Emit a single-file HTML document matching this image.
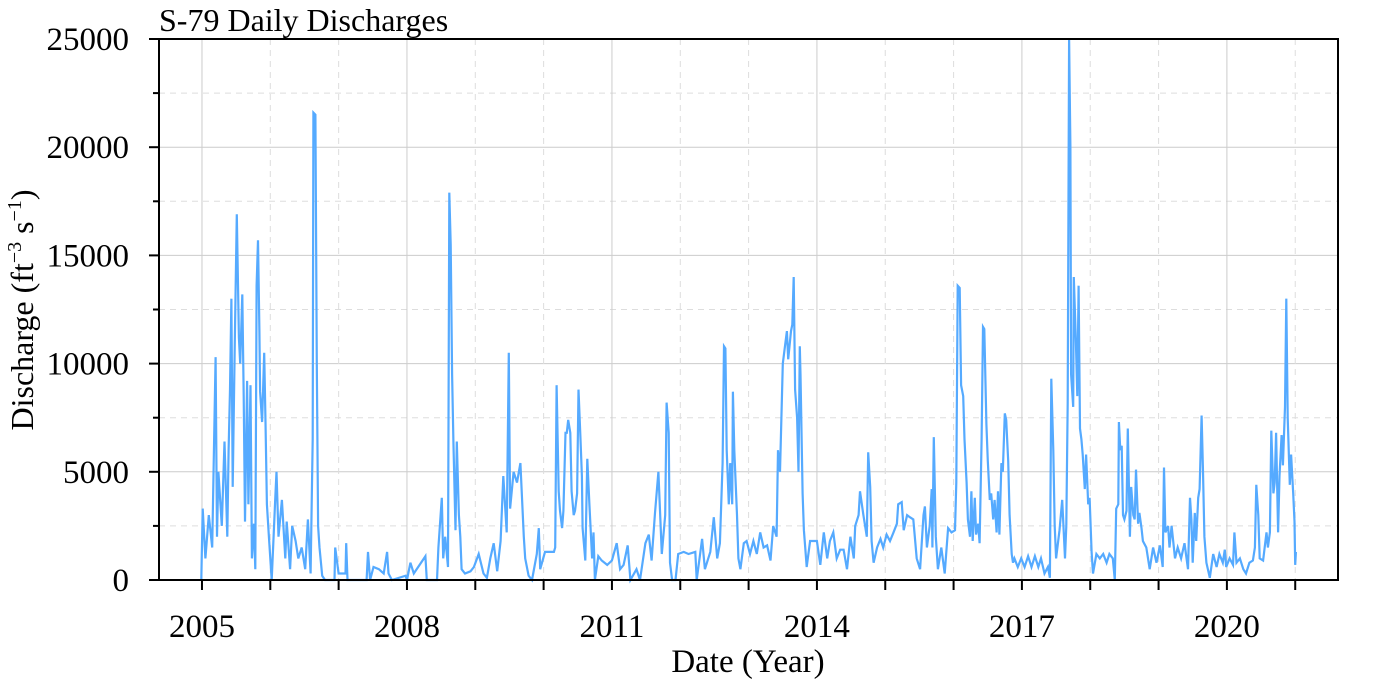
<!DOCTYPE html>
<html><head><meta charset="utf-8"><style>
html,body{margin:0;padding:0;background:#fff;}
svg{display:block;font-family:"Liberation Serif",serif;}
</style></head><body>
<svg id="chart" width="1400" height="700" viewBox="0 0 1400 700" xmlns="http://www.w3.org/2000/svg">
<g id="grid"></g>
<g id="series"></g>
<rect x="159" y="39" width="1179" height="541" fill="none" stroke="#000" stroke-width="2"/>
<g id="axes"></g>
<text x="159" y="31" font-size="32">S-79 Daily Discharges</text>
<text x="748" y="672" font-size="33" text-anchor="middle">Date (Year)</text>
<text transform="translate(33,310) rotate(-90)" font-size="32" text-anchor="middle">Discharge (ft<tspan font-size="20" dy="-12">−3</tspan><tspan dy="12"> s</tspan><tspan font-size="20" dy="-12">−1</tspan><tspan dy="12">)</tspan></text>
</svg>
<script>
const xTickYears=[2005,2006,2007,2008,2009,2010,2011,2012,2013,2014,2015,2016,2017,2018,2019,2020,2021];
const xLabelYears=[2005,2008,2011,2014,2017,2020];
const yTicks=[0,2500,5000,7500,10000,12500,15000,17500,20000,22500,25000];
const yLabels=[0,5000,10000,15000,20000,25000];
const dates=[2004.99,2005.01,2005.05,2005.10,2005.15,2005.20,2005.22,2005.24,2005.29,2005.33,2005.37,2005.39,2005.41,2005.43,2005.45,2005.48,2005.51,2005.54,2005.56,2005.59,2005.61,2005.63,2005.66,2005.68,2005.71,2005.73,2005.76,2005.78,2005.80,2005.82,2005.84,2005.85,2005.88,2005.91,2005.93,2005.95,2005.98,2006.00,2006.02,2006.07,2006.09,2006.12,2006.17,2006.22,2006.24,2006.29,2006.32,2006.37,2006.41,2006.46,2006.51,2006.55,2006.59,2006.62,2006.63,2006.66,2006.68,2006.70,2006.72,2006.76,2006.80,2006.94,2006.95,2007.00,2007.10,2007.11,2007.13,2007.41,2007.43,2007.46,2007.51,2007.59,2007.66,2007.71,2007.73,2007.78,2007.98,2008.00,2008.05,2008.10,2008.27,2008.29,2008.44,2008.46,2008.51,2008.53,2008.56,2008.60,2008.62,2008.64,2008.66,2008.68,2008.71,2008.73,2008.76,2008.78,2008.80,2008.85,2008.93,2008.98,2009.05,2009.12,2009.17,2009.22,2009.27,2009.32,2009.37,2009.41,2009.46,2009.49,2009.51,2009.56,2009.61,2009.66,2009.71,2009.73,2009.78,2009.83,2009.90,2009.93,2009.95,2010.02,
2010.10,2010.15,2010.17,2010.19,2010.22,2010.24,2010.27,2010.29,2010.32,2010.34,2010.36,2010.39,2010.41,2010.44,2010.46,2010.49,2010.51,2010.54,2010.56,2010.57,2010.61,2010.64,2010.67,2010.71,2010.73,2010.75,2010.80,2010.85,2010.93,2011.00,2011.07,2011.12,2011.17,2011.23,2011.27,2011.36,2011.41,2011.49,2011.54,2011.58,2011.63,2011.68,2011.73,2011.78,2011.80,2011.83,2011.85,2011.88,2011.93,2011.97,2012.05,2012.12,2012.22,2012.24,2012.32,2012.36,2012.44,2012.49,2012.54,2012.58,2012.62,2012.64,2012.66,2012.68,2012.71,2012.73,2012.76,2012.77,2012.79,2012.83,2012.85,2012.88,2012.93,2012.97,2013.02,2013.07,2013.12,2013.17,2013.22,2013.27,2013.32,2013.36,2013.41,2013.43,2013.46,2013.50,2013.54,2013.56,2013.58,2013.62,2013.64,2013.66,2013.68,2013.71,2013.73,2013.75,2013.76,2013.79,2013.81,2013.85,2013.90,2013.95,2014.00,2014.05,2014.10,2014.15,2014.19,2014.24,2014.29,2014.34,2014.39,2014.44,2014.49,2014.54,2014.56,2014.61,2014.63,2014.68,2014.73,2014.75,2014.78,2014.80,2014.83,2014.88,2014.93,2014.97,2015.02,2015.07,2015.12,2015.17,2015.19,2015.24,2015.27,2015.32,2015.36,2015.41,2015.46,2015.51,2015.56,2015.58,2015.61,
2015.65,2015.68,2015.69,2015.71,2015.74,2015.77,2015.82,2015.87,2015.92,2015.97,2016.02,2016.04,2016.06,2016.09,2016.11,2016.14,2016.16,2016.19,2016.21,2016.24,2016.26,2016.28,2016.31,2016.33,2016.36,2016.38,2016.41,2016.43,2016.45,2016.48,2016.50,2016.53,2016.55,2016.58,2016.60,2016.63,2016.65,2016.67,2016.70,2016.72,2016.75,2016.77,2016.80,2016.82,2016.85,2016.87,2016.89,2016.94,2016.99,2017.04,2017.09,2017.14,2017.19,2017.24,2017.28,2017.33,2017.38,2017.41,2017.43,2017.46,2017.48,2017.50,2017.55,2017.59,2017.63,2017.65,2017.67,2017.69,2017.71,2017.72,2017.75,2017.76,2017.79,2017.81,2017.83,2017.85,2017.87,2017.89,2017.92,2017.94,2017.97,2017.99,2018.02,2018.04,2018.09,2018.14,2018.19,2018.24,2018.28,2018.33,2018.36,2018.38,2018.41,2018.42,2018.44,2018.46,2018.48,2018.50,2018.53,2018.55,2018.58,2018.60,2018.63,2018.65,2018.67,2018.70,2018.72,2018.75,2018.77,2018.82,2018.87,2018.92,2018.97,2019.02,2019.06,2019.08,2019.10,2019.14,2019.16,2019.19,2019.24,2019.28,2019.33,2019.38,2019.43,2019.46,2019.48,2019.50,2019.53,2019.55,2019.58,2019.60,2019.63,2019.65,2019.67,2019.70,2019.75,2019.80,2019.85,2019.89,2019.94,2019.97,2019.99,2020.04,2020.09,2020.11,2020.14,2020.19,2020.24,2020.28,2020.33,2020.38,2020.41,2020.43,2020.46,2020.48,2020.53,2020.58,2020.60,2020.63,2020.65,2020.68,2020.70,2020.72,2020.75,2020.77,2020.80,2020.82,2020.85,2020.87,2020.89,2020.92,2020.94,2020.97,2020.99,2021.00,2021.01];
const values=[0,3300,1000,3000,1500,10300,2000,5000,2500,6400,2000,6000,8800,13000,4300,11000,16900,11200,10000,13200,8500,2700,9200,3500,9000,1000,2600,500,13600,15700,11500,8700,7300,10500,7300,3500,2000,1000,0,3600,5000,2000,3700,1000,2700,500,2500,1800,1000,1500,500,2800,300,6500,21600,21500,10000,2500,1500,200,0,0,1500,300,300,1700,0,0,1300,0,600,500,300,1300,300,0,200,0,800,300,1100,0,0,1500,3800,1000,2000,600,17900,15500,9500,6400,2300,6400,3000,2000,500,300,400,600,1200,300,100,1000,1700,400,1800,4800,2200,10500,3300,5000,4500,5400,2000,1000,200,0,1200,2400,500,1300,
1300,1300,1500,9000,4100,3200,2400,3200,6800,6800,7400,6800,4100,3000,3200,4000,8800,6500,4800,2400,900,5600,3500,1000,2200,0,1100,900,700,900,1700,500,700,1600,0,500,0,1700,2100,900,3100,5000,1200,3000,8200,6800,800,0,0,1200,1300,1200,1300,0,1900,500,1300,2900,1000,1700,5400,10800,10700,6000,3500,5400,3500,8700,6000,3000,1000,500,1700,1800,1200,1800,1200,2200,1500,1600,900,2500,2000,6000,5000,10000,11000,11500,10200,11500,11800,14000,8800,7500,5000,10800,9500,4000,2300,600,1800,1800,1800,700,2200,1000,1800,2200,1000,1400,1400,500,2000,1000,2500,3000,4100,3000,2000,5900,4300,1800,800,1500,1900,1500,2100,1800,2200,2600,3500,3600,2300,3000,2900,2800,1000,500,3000,3400,1500,
2500,4200,1500,6600,2000,500,1500,300,2400,2200,2300,4500,13600,13500,9000,8500,6500,4500,2800,2000,4100,1800,3800,2100,2600,1700,6500,11700,11600,7200,5500,3700,4000,2800,3700,2200,4100,2100,5400,5000,7700,7400,5500,3000,1200,800,1000,600,1000,600,1100,600,1100,600,1000,300,600,100,9300,6000,2500,1000,2300,3700,1000,2500,8200,25000,20000,9500,8000,14000,11000,8500,13600,7000,6500,5800,4200,5800,3500,3800,1300,300,1200,1000,1200,800,1200,1000,0,3300,3500,7300,6000,6200,3000,2800,3200,7000,2000,4300,3000,2800,5100,2600,3100,2400,1800,1500,500,1500,800,1600,600,5200,2200,2500,1500,2500,1000,1500,1000,1700,500,3800,2800,800,3100,1800,3800,4200,7600,5000,2000,800,100,1200,600,1200,800,1400,600,1000,700,2200,800,1000,500,300,800,900,1500,4400,3000,1000,900,2200,1500,2200,6900,4000,4500,6800,2200,4800,6700,5300,8000,13000,7500,4400,5800,4000,2700,700,1300];

const NS='http://www.w3.org/2000/svg';
const X0=159,X1=1338,Y0=580,Y1=39;
const xMin=2004.371,xMax=2021.626;
function xs(t){return X0+(t-xMin)/(xMax-xMin)*(X1-X0);}
function ys(v){return Y0-(v/25000)*(Y0-Y1);}
function mk(tag,attrs,parent){const e=document.createElementNS(NS,tag);for(const k in attrs)e.setAttribute(k,attrs[k]);parent.appendChild(e);return e;}
const grid=document.getElementById('grid'),axes=document.getElementById('axes'),series=document.getElementById('series');

yTicks.forEach(v=>{
  if(v===0||v===25000)return;
  const major=v%5000===0;
  const l=mk('line',{x1:X0,x2:X1,y1:ys(v),y2:ys(v),stroke:major?'#cccccc':'#dddddd','stroke-width':1,'stroke-dasharray':major?'none':'6,5'},grid);
  
  
});
xTickYears.forEach(yr=>{
  const major=xLabelYears.includes(yr);
  const l=mk('line',{x1:xs(yr),x2:xs(yr),y1:Y1,y2:Y0,stroke:major?'#cccccc':'#dddddd','stroke-width':1,'stroke-dasharray':major?'none':'6,5'},grid);
  
  
});

let d='';
dates.forEach((t,i)=>{d+=(i?'L':'M')+xs(t).toFixed(1)+','+ys(values[i]).toFixed(1);});
const p=mk('path',{d:d,fill:'none',stroke:'#55aaff','stroke-width':2.2,'stroke-linejoin':'miter'},series);



yTicks.forEach(v=>{
  const major=v%5000===0;
  const t=mk('line',{x1:X0-(major?10:6),x2:X0,y1:ys(v),y2:ys(v),stroke:'#000','stroke-width':2},axes);
  
  
});
yLabels.forEach(v=>{
  const t=mk('text',{x:129,y:ys(v)+11,'font-size':33,'text-anchor':'end'},axes);
  t.textContent=String(v);
  
  
});
xTickYears.forEach(yr=>{
  const t=mk('line',{x1:xs(yr),x2:xs(yr),y1:Y0,y2:Y0+10,stroke:'#000','stroke-width':2},axes);
  
  
});
xLabelYears.forEach(yr=>{
  const t=mk('text',{x:xs(yr),y:637,'font-size':33,'text-anchor':'middle'},axes);
  t.textContent=String(yr);
  
  
});
</script>
</body></html>
